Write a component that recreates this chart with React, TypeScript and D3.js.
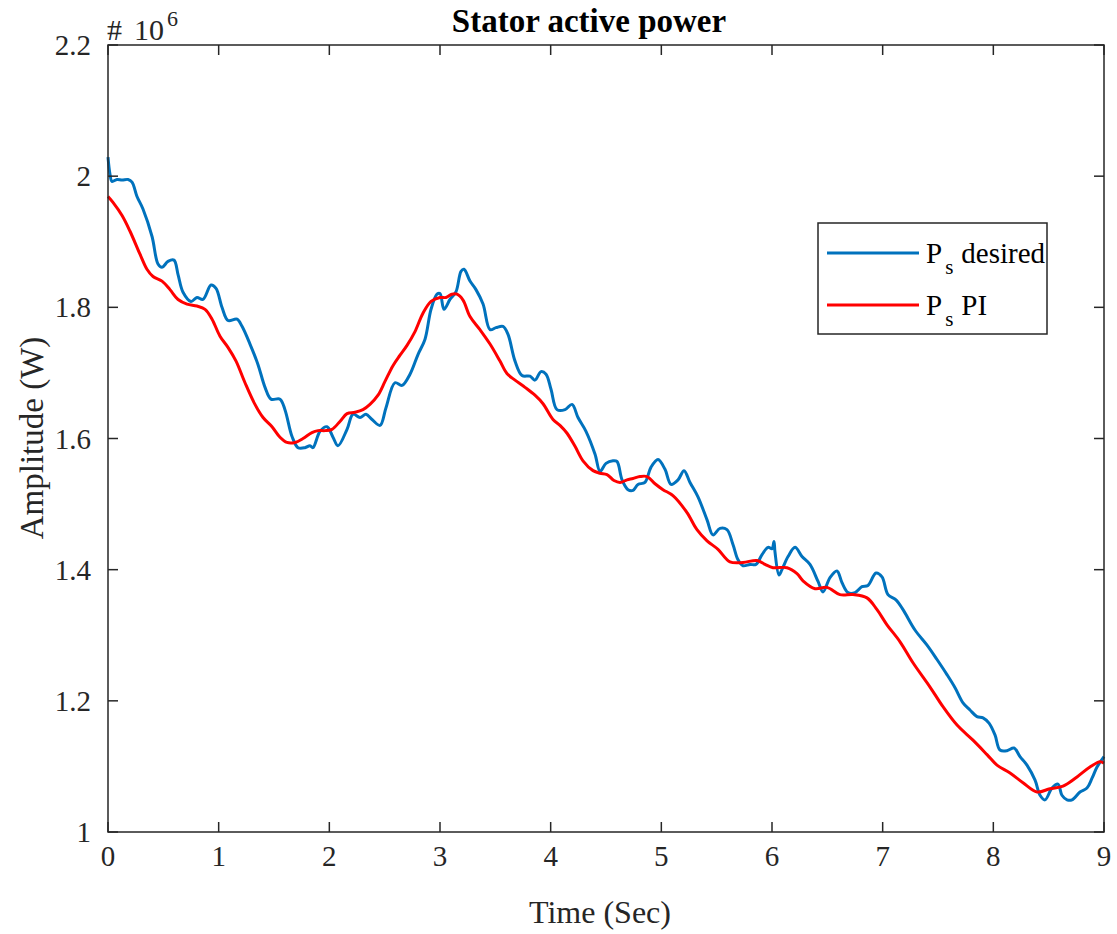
import React from "react";
import * as d3 from "d3";

const blueT = [0.000,0.018,0.036,0.081,0.127,0.181,0.217,0.262,0.316,0.398,0.452,0.488,0.542,0.596,0.633,0.678,0.750,0.804,0.858,0.931,0.976,1.030,1.084,1.166,1.211,1.283,1.355,1.419,1.473,1.554,1.599,1.663,1.717,1.780,1.825,1.852,1.916,1.979,2.033,2.078,2.160,2.214,2.277,2.331,2.386,2.458,2.512,2.593,2.657,2.729,2.801,2.864,2.919,2.973,3.000,3.036,3.090,3.145,3.190,3.217,3.271,3.325,3.389,3.452,3.506,3.569,3.614,3.678,3.741,3.813,3.858,3.913,3.958,4.003,4.057,4.130,4.193,4.247,4.319,4.401,4.446,4.500,4.563,4.599,4.645,4.699,4.744,4.789,4.852,4.906,4.970,5.033,5.087,5.151,5.205,5.259,5.331,5.413,5.467,5.530,5.593,5.648,5.693,5.738,5.801,5.855,5.910,5.964,6.000,6.018,6.027,6.063,6.090,6.145,6.208,6.271,6.343,6.416,6.461,6.524,6.587,6.633,6.687,6.750,6.813,6.867,6.940,6.994,7.048,7.120,7.184,7.292,7.401,7.491,7.581,7.654,7.726,7.789,7.852,7.907,7.961,8.015,8.060,8.124,8.187,8.241,8.304,8.377,8.422,8.467,8.530,8.584,8.620,8.666,8.711,8.783,8.846,8.892,8.937,9.000];
const blueV = [2.029,2.003,1.992,1.995,1.994,1.995,1.991,1.969,1.950,1.908,1.866,1.861,1.870,1.872,1.850,1.823,1.809,1.815,1.812,1.834,1.829,1.800,1.780,1.782,1.771,1.744,1.713,1.678,1.660,1.660,1.644,1.603,1.586,1.586,1.589,1.586,1.611,1.618,1.602,1.589,1.614,1.637,1.632,1.637,1.629,1.620,1.647,1.685,1.681,1.698,1.728,1.751,1.797,1.820,1.821,1.797,1.812,1.824,1.855,1.858,1.840,1.827,1.805,1.766,1.769,1.771,1.759,1.718,1.696,1.695,1.689,1.702,1.698,1.675,1.644,1.644,1.652,1.632,1.611,1.576,1.550,1.562,1.566,1.565,1.537,1.522,1.521,1.530,1.533,1.556,1.568,1.553,1.530,1.537,1.551,1.533,1.511,1.476,1.453,1.463,1.461,1.438,1.415,1.406,1.408,1.408,1.423,1.434,1.432,1.443,1.427,1.392,1.400,1.420,1.434,1.420,1.408,1.382,1.366,1.388,1.398,1.380,1.365,1.365,1.374,1.376,1.395,1.389,1.362,1.354,1.339,1.308,1.285,1.263,1.240,1.220,1.197,1.186,1.176,1.174,1.166,1.148,1.125,1.124,1.128,1.115,1.102,1.079,1.056,1.049,1.067,1.073,1.056,1.049,1.049,1.061,1.067,1.082,1.099,1.115];

const redT = [0.000,0.045,0.127,0.199,0.289,0.352,0.407,0.488,0.560,0.633,0.714,0.804,0.877,0.940,1.012,1.084,1.157,1.238,1.328,1.401,1.482,1.554,1.617,1.690,1.762,1.843,1.898,1.961,2.024,2.096,2.160,2.232,2.304,2.367,2.440,2.503,2.575,2.639,2.702,2.774,2.846,2.919,3.000,3.054,3.108,3.154,3.208,3.271,3.361,3.452,3.542,3.605,3.678,3.768,3.858,3.931,4.021,4.084,4.148,4.220,4.292,4.383,4.446,4.509,4.572,4.627,4.690,4.744,4.807,4.871,4.943,5.015,5.105,5.232,5.322,5.413,5.512,5.620,5.738,5.864,5.937,6.009,6.136,6.226,6.280,6.389,6.497,6.614,6.732,6.858,6.949,7.039,7.157,7.274,7.428,7.545,7.672,7.816,7.943,8.033,8.151,8.268,8.395,8.512,8.630,8.756,8.873,8.964,9.000];
const redV = [1.969,1.960,1.940,1.916,1.881,1.858,1.847,1.840,1.827,1.812,1.805,1.802,1.797,1.782,1.756,1.739,1.718,1.685,1.652,1.632,1.618,1.602,1.594,1.594,1.600,1.609,1.612,1.612,1.614,1.626,1.638,1.640,1.644,1.652,1.666,1.687,1.711,1.727,1.742,1.763,1.791,1.809,1.815,1.815,1.820,1.820,1.811,1.786,1.766,1.744,1.718,1.699,1.689,1.678,1.666,1.653,1.629,1.620,1.608,1.588,1.566,1.551,1.547,1.545,1.536,1.533,1.537,1.539,1.542,1.542,1.531,1.522,1.513,1.487,1.461,1.444,1.431,1.412,1.411,1.414,1.408,1.403,1.403,1.394,1.383,1.371,1.373,1.362,1.362,1.357,1.339,1.316,1.290,1.258,1.221,1.191,1.163,1.140,1.118,1.102,1.090,1.075,1.061,1.066,1.070,1.084,1.099,1.107,1.105];

const xTicks = [0, 1, 2, 3, 4, 5, 6, 7, 8, 9];
const yTicks = [1, 1.2, 1.4, 1.6, 1.8, 2, 2.2];
const seriesNames = ["desired", "PI"];
const seriesColors = ["#0072BD", "#FF0000"];

const W = 1117, H = 934;
const L = 108, R = 1104, T = 45, B = 832;
const FONT = "'Liberation Serif', 'Times New Roman', serif";
const AX = "#262626";

export default function App() {
  const x = d3.scaleLinear().domain([0, 9]).range([L, R]);
  const y = d3.scaleLinear().domain([1, 2.2]).range([B, T]);
  const line = d3.line<[number, number]>().x(d => x(d[0])).y(d => y(d[1])).curve(d3.curveCatmullRom.alpha(0.5));
  const blue = blueT.map((t, i) => [t, blueV[i]] as [number, number]);
  const red = redT.map((t, i) => [t, redV[i]] as [number, number]);
  const tickLen = 10;
  const yLabel = (v: number) => (Number.isInteger(v) ? String(v) : v.toFixed(1));
  return (
    <svg width={W} height={H} style={{ position: "absolute", left: 0, top: 0, display: "block", background: "#fff" }} fontFamily={FONT}>
      <rect x={0} y={0} width={W} height={H} fill="#fff" />
      <path d={line(blue) || ""} fill="none" stroke={seriesColors[0]} strokeWidth={3} strokeLinejoin="round" />
      <path d={line(red) || ""} fill="none" stroke={seriesColors[1]} strokeWidth={3} strokeLinejoin="round" />
      <rect x={L} y={T} width={R - L} height={B - T} fill="none" stroke={AX} strokeWidth={1.5} />
      {xTicks.map(t => (
        <g key={"x" + t}>
          <line x1={x(t)} x2={x(t)} y1={B} y2={B - tickLen} stroke={AX} strokeWidth={1.5} />
          <line x1={x(t)} x2={x(t)} y1={T} y2={T + tickLen} stroke={AX} strokeWidth={1.5} />
          <text x={x(t)} y={B + 34} textAnchor="middle" fontSize={29} fill={AX}>{t}</text>
        </g>
      ))}
      {yTicks.map(t => (
        <g key={"y" + t}>
          <line x1={L} x2={L + tickLen} y1={y(t)} y2={y(t)} stroke={AX} strokeWidth={1.5} />
          <line x1={R} x2={R - tickLen} y1={y(t)} y2={y(t)} stroke={AX} strokeWidth={1.5} />
          <text x={91} y={y(t) + 10} textAnchor="end" fontSize={29} fill={AX}>{yLabel(t)}</text>
        </g>
      ))}
      <text x={107} y={40} fontSize={30} fill={AX}>#</text>
      <text x={134} y={40} fontSize={30} fill={AX}>10<tspan dy={-14} fontSize={22} dx={3}>6</tspan></text>
      <text x={589} y={32} textAnchor="middle" fontSize={33} fontWeight="bold" fill="#000">Stator active power</text>
      <text x={600} y={923} textAnchor="middle" fontSize={32} fill={AX}>Time (Sec)</text>
      <text transform={`translate(43,438) rotate(-90)`} textAnchor="middle" fontSize={33} fill={AX}>Amplitude (W)</text>
      <rect x={818} y={223} width={229} height={111} fill="#fff" stroke={AX} strokeWidth={1.5} />
      {seriesNames.map((n, i) => (
        <g key={n}>
          <line x1={827} x2={919} y1={253 + i * 52} y2={253 + i * 52} stroke={seriesColors[i]} strokeWidth={3} />
          <text x={926} y={263 + i * 52} fontSize={29} fill="#000">P<tspan dy={11} fontSize={21} dx={3}>s</tspan><tspan dy={-11} dx={8}>{n}</tspan></text>
        </g>
      ))}
    </svg>
  );
}
